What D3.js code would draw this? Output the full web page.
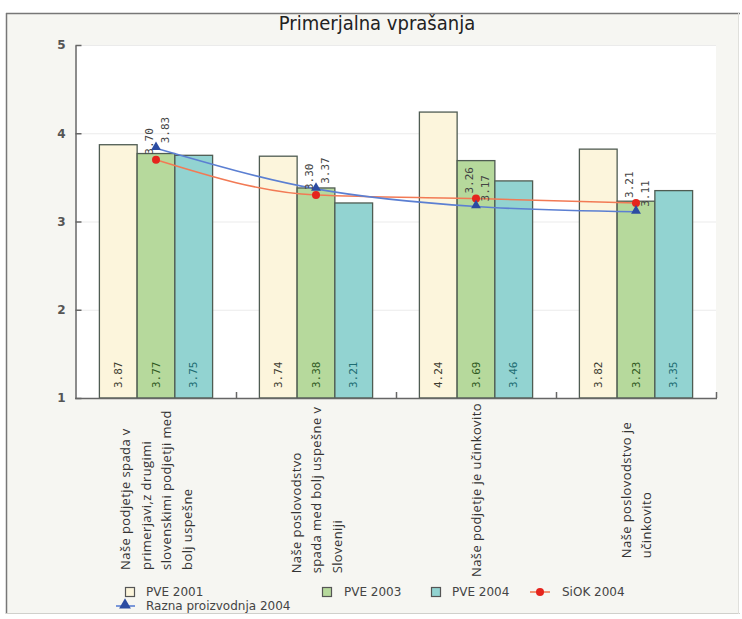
<!DOCTYPE html>
<html>
<head>
<meta charset="utf-8">
<script src="https://cdn.jsdelivr.net/npm/d3@7"></script>
<style>
  body { margin: 0; background: #ffffff; }
  svg text { font-family: "DejaVu Sans", sans-serif; }
</style>
</head>
<body>
<svg id="chart" width="742" height="619"></svg>
<script>
// ── 데이터 ─────────────────────────────────────────────
const categories = [
  ["Naše podjetje spada v", "primerjavi,z drugimi", "slovenskimi podjetji med", "bolj uspešne"],
  ["Naše poslovodstvo", "spada med bolj uspešne v", "Sloveniji"],
  ["Naše podjetje je učinkovito"],
  ["Naše poslovodstvo je", "učinkovito"]
];
const barSeries = ["PVE 2001", "PVE 2003", "PVE 2004"];
const pve2001 = [3.87, 3.74, 4.24, 3.82];
const pve2003 = [3.77, 3.38, 3.69, 3.23];
const pve2004 = [3.75, 3.21, 3.46, 3.35];
const lineSeries = ["SiOK 2004", "Razna proizvodnja 2004"];
const siok2004 = [3.70, 3.30, 3.26, 3.21];
const razna2004 = [3.83, 3.37, 3.17, 3.11];
const yTicks = [1, 2, 3, 4, 5];
const title = "Primerjalna vprašanja";

// ── 스타일 ─────────────────────────────────────────────
const barFill   = ["#fcf5dc", "#b6d99c", "#92d3d1"];
const barLabelC = ["#3c3c30", "#2f5a22", "#1d6c72"];
const BAR_STROKE = "#4f5c52";
const RED_LINE = "#f27a55", RED_DOT = "#e5241d";
const BLUE_LINE = "#5b7fd2", BLUE_DOT = "#2c4ca2";

const L = 76, R = 716, T = 45, B = 398;

const svg = d3.select("#chart");

// 바깥 프레임
svg.append("rect").attr("x", 6).attr("y", 13).attr("width", 732).attr("height", 600)
  .attr("fill", "#f6f6f2");
svg.append("line").attr("x1", 6).attr("x2", 740).attr("y1", 13.5).attr("y2", 13.5)
  .attr("stroke", "#777").attr("stroke-width", 1.5);
svg.append("line").attr("x1", 6.5).attr("x2", 6.5).attr("y1", 13).attr("y2", 614)
  .attr("stroke", "#777").attr("stroke-width", 1.5);
svg.append("line").attr("x1", 6).attr("x2", 740).attr("y1", 613.5).attr("y2", 613.5)
  .attr("stroke", "#d0d0cc");
svg.append("line").attr("x1", 738.5).attr("x2", 738.5).attr("y1", 13).attr("y2", 614)
  .attr("stroke", "#e0e0dc");

// 제목
svg.append("text").attr("x", 377).attr("y", 30).attr("text-anchor", "middle")
  .style("font-family", "'DejaVu Sans Condensed', 'DejaVu Sans', sans-serif")
  .style("font-stretch", "condensed")
  .attr("font-size", 20).attr("fill", "#222").text(title);

// ── 스케일 ─────────────────────────────────────────────
const x = d3.scaleBand().domain(d3.range(categories.length)).range([L, R]).padding(0);
const xs = d3.scaleBand().domain(barSeries).range([0, x.bandwidth()])
  .paddingInner(0).paddingOuter(0.62);
const y = d3.scaleLinear().domain([1, 5]).range([B, T]);

// 플롯 배경
svg.append("rect").attr("x", L - 1).attr("y", T).attr("width", R - L + 1).attr("height", B - T)
  .attr("fill", "#ffffff");

// 그리드
svg.append("g").selectAll("line").data(yTicks.filter(d => d > 1)).join("line")
  .attr("x1", L).attr("x2", R).attr("y1", d => y(d) + 0.5).attr("y2", d => y(d) + 0.5)
  .attr("stroke", "#ebebeb");

// ── 막대 ───────────────────────────────────────────────
const barData = [pve2001, pve2003, pve2004];
const bars = svg.append("g");
barData.forEach((vals, si) => {
  vals.forEach((v, ci) => {
    const bx = x(ci) + xs(barSeries[si]);
    bars.append("rect")
      .attr("x", bx).attr("y", y(v))
      .attr("width", xs.bandwidth()).attr("height", y(1) - y(v))
      .attr("fill", barFill[si]).attr("stroke", BAR_STROKE).attr("stroke-width", 1.3);
    bars.append("text")
      .attr("transform", `translate(${bx + xs.bandwidth() / 2},388) rotate(-90)`)
      .attr("dominant-baseline", "central")
      .style("font-family", "'DejaVu Sans Mono', monospace")
      .attr("font-size", 11).attr("fill", barLabelC[si])
      .text(v.toFixed(2));
  });
});

// ── 축 ─────────────────────────────────────────────────
const yAxis = svg.append("g").attr("transform", `translate(${L - 0.5},0)`)
  .call(d3.axisLeft(y).tickValues(yTicks).tickSizeInner(-6).tickSizeOuter(0).tickPadding(10)
    .tickFormat(d3.format("d")));
yAxis.select(".domain").attr("stroke", "#666").attr("stroke-width", 1.5);
yAxis.selectAll(".tick line").attr("stroke", "#666").attr("stroke-width", 1.5);
yAxis.selectAll(".tick text").attr("font-size", 12).attr("fill", "#555")
  .style("font-family", "'DejaVu Sans', sans-serif").attr("font-weight", "bold");

svg.append("line").attr("x1", L - 1).attr("x2", R + 1).attr("y1", B + 0.5).attr("y2", B + 0.5)
  .attr("stroke", "#666").attr("stroke-width", 1.5);
svg.append("g").selectAll("line").data(d3.range(1, categories.length + 1)).join("line")
  .attr("x1", d => (d < categories.length ? x(d) : R) + 0.5)
  .attr("x2", d => (d < categories.length ? x(d) : R) + 0.5)
  .attr("y1", B).attr("y2", B - 6)
  .attr("stroke", "#666").attr("stroke-width", 1.5);

// ── 선 ─────────────────────────────────────────────────
const cx = i => x(i) + x.bandwidth() / 2;
const lineGen = d3.line().x((d, i) => cx(i)).y(d => y(d)).curve(d3.curveMonotoneX);

svg.append("path").datum(siok2004).attr("d", lineGen)
  .attr("fill", "none").attr("stroke", RED_LINE).attr("stroke-width", 1.6);
svg.append("path").datum(razna2004).attr("d", lineGen)
  .attr("fill", "none").attr("stroke", BLUE_LINE).attr("stroke-width", 1.6);

const tri = d3.symbol().type(d3.symbolTriangle).size(42);
svg.append("g").selectAll("circle").data(siok2004).join("circle")
  .attr("cx", (d, i) => cx(i)).attr("cy", d => y(d)).attr("r", 4).attr("fill", RED_DOT);
svg.append("g").selectAll("path").data(razna2004).join("path")
  .attr("d", tri).attr("fill", BLUE_DOT)
  .attr("transform", (d, i) => `translate(${cx(i)},${y(d) - 1})`);

// 선 값 라벨
const addLineLabels = (vals, dx) => {
  svg.append("g").selectAll("text").data(vals).join("text")
    .attr("transform", (d, i) => `translate(${cx(i) + dx},${y(d) - 5}) rotate(-90)`)
    .attr("dominant-baseline", "central")
    .style("font-family", "'DejaVu Sans Mono', monospace")
    .attr("font-size", 11).attr("fill", "#444")
    .text(d => d.toFixed(2));
};
addLineLabels(siok2004, -7);
addLineLabels(razna2004, 9);

// ── 카테고리 라벨 (회전, 여러 줄) ───────────────────────
const catG = svg.append("g");
categories.forEach((lines, ci) => {
  const lh = 20.5;
  const g = catG.append("g");
  const texts = lines.map((ln, li) => g.append("text")
    .attr("dominant-baseline", "central")
    .style("font-family", "'Open Sans', sans-serif")
    .style("letter-spacing", "0.4px")
    .attr("font-size", 13).attr("fill", "#333")
    .text(ln));
  const maxW = d3.max(texts, t => t.node().getComputedTextLength());
  const startY = 490 + maxW / 2;
  texts.forEach((t, li) => {
    const lx = cx(ci) + (li - (lines.length - 1) / 2) * lh;
    t.attr("transform", `translate(${lx},${startY}) rotate(-90)`);
  });
});

// ── 범례 ───────────────────────────────────────────────
const leg = svg.append("g")
  .style("font-family", "'Open Sans', sans-serif")
  .style("font-variant-numeric", "oldstyle-nums");
const legSq = [[130, 146], [327, 344], [436, 452]];
barSeries.forEach((s, i) => {
  const [mx, tx] = legSq[i];
  leg.append("rect").attr("x", mx - 4.5).attr("y", 587.5).attr("width", 9).attr("height", 9)
    .attr("fill", barFill[i]).attr("stroke", "#555").attr("stroke-width", 1.2);
  leg.append("text").attr("x", tx).attr("y", 592).attr("dominant-baseline", "central")
    .attr("font-size", 12).attr("fill", "#444").text(s);
});
leg.append("line").attr("x1", 530).attr("x2", 550).attr("y1", 592).attr("y2", 592)
  .attr("stroke", RED_LINE).attr("stroke-width", 1.6);
leg.append("circle").attr("cx", 540).attr("cy", 592).attr("r", 4).attr("fill", RED_DOT);
leg.append("text").attr("x", 562).attr("y", 592).attr("dominant-baseline", "central")
  .attr("font-size", 12).attr("fill", "#444").text(lineSeries[0]);
leg.append("line").attr("x1", 116).attr("x2", 135).attr("y1", 606).attr("y2", 606)
  .attr("stroke", BLUE_LINE).attr("stroke-width", 1.6);
leg.append("path").attr("d", d3.symbol().type(d3.symbolTriangle).size(60))
  .attr("transform", "translate(125,605)").attr("fill", BLUE_DOT);
leg.append("text").attr("x", 146).attr("y", 606).attr("dominant-baseline", "central")
  .attr("font-size", 12).attr("fill", "#444").text(lineSeries[1]);
</script>
</body>
</html>
